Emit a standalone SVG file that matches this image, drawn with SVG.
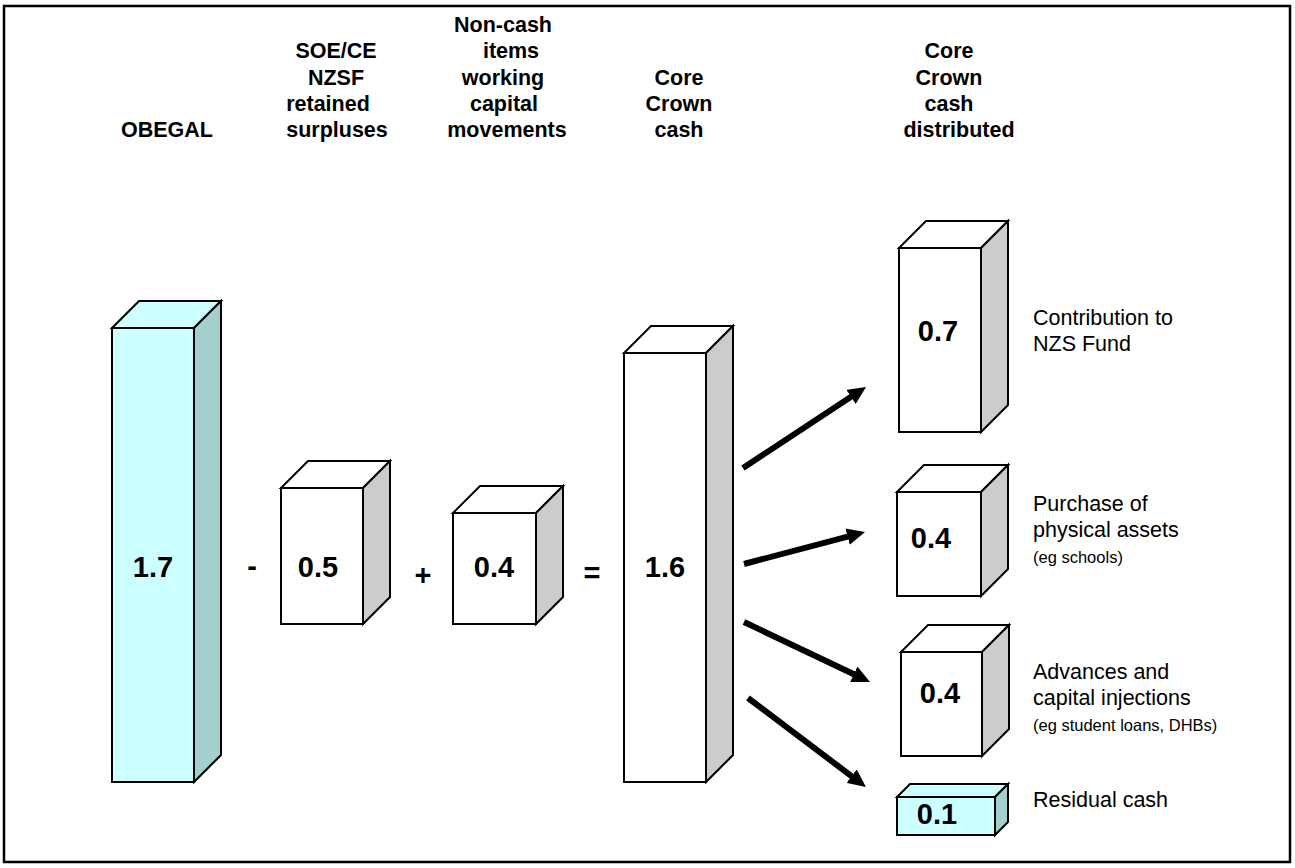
<svg xmlns="http://www.w3.org/2000/svg" width="1295" height="868" viewBox="0 0 1295 868">
<defs>
<style>
.hdr{font-family:"Liberation Sans",Arial,sans-serif;font-weight:bold;font-size:21.5px;fill:#000;text-anchor:middle}
.num{font-family:"Liberation Sans",Arial,sans-serif;font-weight:bold;font-size:29px;fill:#000;text-anchor:middle}
.lbl{font-family:"Liberation Sans",Arial,sans-serif;font-size:21.5px;fill:#000}
.sub{font-family:"Liberation Sans",Arial,sans-serif;font-size:16.5px;fill:#000}
.face{stroke:#000;stroke-width:2;stroke-linejoin:miter}
.wf{fill:#fff}
.ws{fill:#cccccc}
.cf{fill:#ccffff}
.cs{fill:#a3cfcd}
.arr{stroke:#000;stroke-width:6;fill:none}
</style>
<marker id="ah" markerUnits="userSpaceOnUse" markerWidth="18" markerHeight="17" refX="6" refY="8.5" orient="auto" viewBox="0 0 18 17">
<path d="M0,0 L18,8.5 L0,17 z" fill="#000"/>
</marker>
</defs>
<rect x="4" y="6" width="1286" height="856" fill="#fff" stroke="#000" stroke-width="2.5"/>

<g id="headers">
<text class="hdr" x="167" y="137">OBEGAL</text>
<text class="hdr" x="336" y="58">SOE/CE</text>
<text class="hdr" x="336" y="84.5">NZSF</text>
<text class="hdr" x="328" y="111">retained</text>
<text class="hdr" x="337" y="137">surpluses</text>
<text class="hdr" x="503" y="31.5">Non-cash</text>
<text class="hdr" x="511" y="58">items</text>
<text class="hdr" x="503" y="84.5">working</text>
<text class="hdr" x="504" y="111">capital</text>
<text class="hdr" x="507" y="137">movements</text>
<text class="hdr" x="679" y="84.5">Core</text>
<text class="hdr" x="679" y="111">Crown</text>
<text class="hdr" x="679" y="137">cash</text>
<text class="hdr" x="949" y="58">Core</text>
<text class="hdr" x="949" y="84.5">Crown</text>
<text class="hdr" x="949" y="111">cash</text>
<text class="hdr" x="959" y="137">distributed</text>
</g>

<g id="obegal">
<polygon class="face cf" points="112,328 139,301 221,301 194,328"/>
<polygon class="face cs" points="194,328 221,301 221,755 194,782"/>
<rect class="face cf" x="112" y="328" width="82" height="454"/>
<text class="num" x="153" y="577">1.7</text>
</g>

<text id="op-minus" class="num" x="252" y="576">-</text>

<g id="soe">
<polygon class="face wf" points="281,488 308,461 390,461 363,488"/>
<polygon class="face ws" points="363,488 390,461 390,597 363,624"/>
<rect class="face wf" x="281" y="488" width="82" height="136"/>
<text class="num" x="318" y="577">0.5</text>
</g>

<text id="op-plus" class="num" x="423" y="585">+</text>

<g id="noncash">
<polygon class="face wf" points="453,513 480,486 563,486 536,513"/>
<polygon class="face ws" points="536,513 563,486 563,597 536,624"/>
<rect class="face wf" x="453" y="513" width="83" height="111"/>
<text class="num" x="494" y="577">0.4</text>
</g>

<text id="op-eq" class="num" x="592" y="583">=</text>

<g id="corecash">
<polygon class="face wf" points="624,353 651,326 733,326 706,353"/>
<polygon class="face ws" points="706,353 733,326 733,755 706,782"/>
<rect class="face wf" x="624" y="353" width="82" height="429"/>
<text class="num" x="665" y="577">1.6</text>
</g>

<g id="connectors">
<line class="arr" x1="743" y1="468" x2="856" y2="393.6" marker-end="url(#ah)"/>
<line class="arr" x1="744" y1="564" x2="853.4" y2="535.1" marker-end="url(#ah)"/>
<line class="arr" x1="744" y1="622" x2="859.2" y2="676.8" marker-end="url(#ah)"/>
<line class="arr" x1="748" y1="698" x2="856.4" y2="779.8" marker-end="url(#ah)"/>
</g>

<g id="nzsf">
<polygon class="face wf" points="899,248 926,221 1008,221 981,248"/>
<polygon class="face ws" points="981,248 1008,221 1008,405 981,432"/>
<rect class="face wf" x="899" y="248" width="82" height="184"/>
<text class="num" x="938" y="341">0.7</text>
<text class="lbl" x="1033" y="324.5">Contribution to</text>
<text class="lbl" x="1033" y="351">NZS Fund</text>
</g>

<g id="physical">
<polygon class="face wf" points="897,492 924,465 1008,465 981,492"/>
<polygon class="face ws" points="981,492 1008,465 1008,569 981,596"/>
<rect class="face wf" x="897" y="492" width="84" height="104"/>
<text class="num" x="931" y="548">0.4</text>
<text class="lbl" x="1033" y="511">Purchase of</text>
<text class="lbl" x="1033" y="537">physical assets</text>
<text class="sub" x="1033" y="563">(eg schools)</text>
</g>

<g id="advances">
<polygon class="face wf" points="901,652 928,625 1009,625 982,652"/>
<polygon class="face ws" points="982,652 1009,625 1009,729 982,756"/>
<rect class="face wf" x="901" y="652" width="81" height="104"/>
<text class="num" x="940" y="703">0.4</text>
<text class="lbl" x="1033" y="678.5">Advances and</text>
<text class="lbl" x="1033" y="705">capital injections</text>
<text class="sub" x="1033" y="731">(eg student loans, DHBs)</text>
</g>

<g id="residual">
<polygon class="face cf" points="897,797 910,784 1008,784 995,797"/>
<polygon class="face cs" points="995,797 1008,784 1008,822 995,835"/>
<rect class="face cf" x="897" y="797" width="98" height="38"/>
<text class="num" x="937" y="824">0.1</text>
<text class="lbl" x="1033" y="806.5">Residual cash</text>
</g>
</svg>
